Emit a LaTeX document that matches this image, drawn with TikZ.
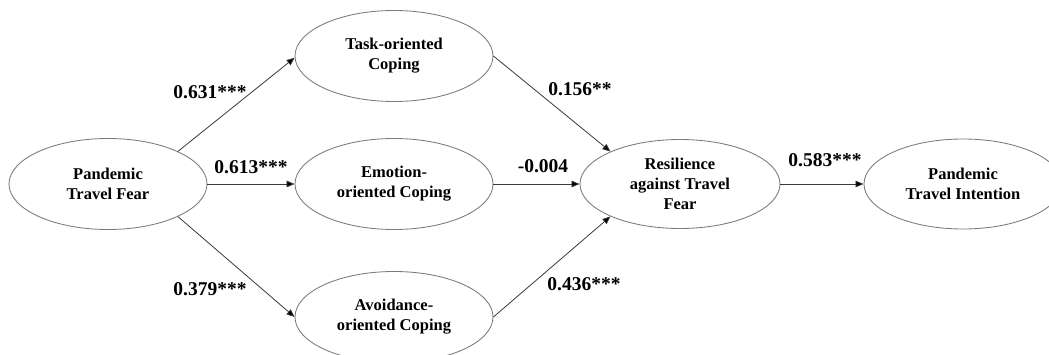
\documentclass[tikz,border=0pt]{standalone}
\usepackage{fontspec}
\setmainfont{Liberation Serif}
\usetikzlibrary{shapes.geometric,arrows.meta}
\definecolor{ellgray}{HTML}{7A7A7A}
\definecolor{linegray}{HTML}{3A3A3A}
\tikzset{
  latent/.style={ellipse, draw=ellgray, line width=0.85pt, fill=white, inner sep=0pt,
    minimum width=198pt, minimum height=91pt, align=center,
    font=\fontsize{16.5}{20}\selectfont\bfseries},
  coef/.style={inner sep=0pt, font=\fontsize{19.5}{22}\selectfont\bfseries},
  path/.style={draw=linegray, line width=0.8pt, -{Triangle[length=8pt,width=6.5pt,fill=black]}},
}
\begin{document}
\begin{tikzpicture}[x=1pt,y=-1pt]
\clip (0,0) rectangle (1049,355);
\fill[white] (0,0) rectangle (1049,355);
\node[latent] (ptf)   at (108,184) {Pandemic\\Travel Fear};
\node[latent] (task)  at (394,56)  {Task-oriented\\Coping};
\node[latent] (emo)   at (394,184) {Emotion-\\oriented Coping};
\node[latent] (avoid) at (394,317) {Avoidance-\\oriented Coping};
\node[latent, minimum width=200pt, minimum height=89pt] (res) at (680,184) {Resilience\\against Travel\\Fear};
\node[latent, minimum height=90pt] (pti) at (963,184) {Pandemic\\Travel Intention};

\draw[path] (ptf.25) -- (task.181);
\draw[path] (ptf.east) -- (emo.west);
\draw[path] (ptf.-25) -- (avoid.west);
\draw[path] (task.east) -- (res.155);
\draw[path] (emo.east) -- (res.west);
\draw[path] (avoid.east) -- (res.205);
\draw[path] (res.east) -- (pti.west);

\node[coef] (c1) at (210,92)  {0.631***};
\node[coef] (c2) at (251,167) {0.613***};
\node[coef] (c3) at (210,289) {0.379***};
\node[coef] (c4) at (580,89)  {0.156**};
\node[coef] (c5) at (543,166) {-0.004};
\node[coef] (c6) at (584,284) {0.436***};
\node[coef] (c7) at (825,160) {0.583***};
\end{tikzpicture}
\end{document}
